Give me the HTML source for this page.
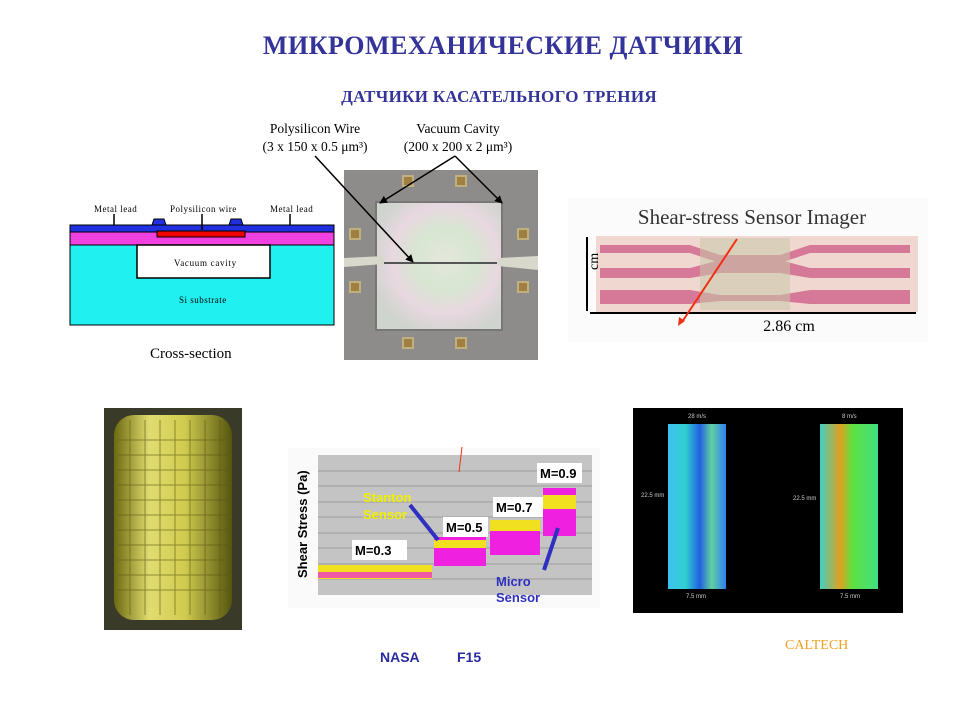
<!DOCTYPE html>
<html><head><meta charset="utf-8"><style>
body{margin:0;width:960px;height:720px;background:#fff;position:relative;overflow:hidden;font-family:"Liberation Serif",serif}
.a{position:absolute;white-space:nowrap}
</style></head><body>
<div class="a" style="left:0;width:1006px;top:31px;text-align:center;font-size:26px;font-weight:bold;color:#333399;letter-spacing:0.5px">МИКРОМЕХАНИЧЕСКИЕ ДАТЧИКИ</div>
<div class="a" style="left:0;width:998px;top:87px;text-align:center;font-size:17px;font-weight:bold;color:#333399;letter-spacing:0.3px">ДАТЧИКИ КАСАТЕЛЬНОГО ТРЕНИЯ</div>

<svg class="a" style="left:0;top:0" width="960" height="720">
<defs>
<radialGradient id="chip" cx="0.55" cy="0.45" r="0.6"><stop offset="0" stop-color="#e6e6dc"/><stop offset="0.4" stop-color="#d7e6d2"/><stop offset="0.7" stop-color="#e8d8e0"/><stop offset="1" stop-color="#d0d4cf"/></radialGradient>
<linearGradient id="cyl" x1="0" x2="1"><stop offset="0" stop-color="#6b6a10"/><stop offset="0.3" stop-color="#e0dc70"/><stop offset="0.6" stop-color="#d0cc50"/><stop offset="1" stop-color="#55550f"/></linearGradient>
<linearGradient id="c1" x1="0" x2="1"><stop offset="0" stop-color="#40c0f0"/><stop offset="0.3" stop-color="#30d0d0"/><stop offset="0.55" stop-color="#2060e0"/><stop offset="0.75" stop-color="#60d0a0"/><stop offset="1" stop-color="#3080f0"/></linearGradient>
<linearGradient id="c2" x1="0" x2="1"><stop offset="0" stop-color="#40d0c0"/><stop offset="0.35" stop-color="#e0a020"/><stop offset="0.55" stop-color="#60e040"/><stop offset="1" stop-color="#40e080"/></linearGradient>
<marker id="ah" markerWidth="8" markerHeight="8" refX="7" refY="4" orient="auto" markerUnits="userSpaceOnUse"><path d="M0 0 L8 4 L0 8z" fill="#000"/></marker>
</defs>
<!-- cross-section -->
<rect x="70" y="225" width="264" height="7" fill="#2030e0" stroke="#000"/>
<rect x="70" y="232" width="264" height="13" fill="#f040e0" stroke="#000"/>
<rect x="70" y="245" width="264" height="80" fill="#20f0f0" stroke="#000"/>
<rect x="137" y="245" width="133" height="33" fill="#fff" stroke="#000" stroke-width="1.5"/>
<path d="M152 225 l2 -6 h10 l2 6 z M229 225 l2 -6 h10 l2 6 z" fill="#2030e0" stroke="#000"/>
<rect x="157" y="231" width="88" height="6" fill="#f00000" stroke="#000"/>
<path d="M114 214 v11 M202 214 v16 M290 214 v11" stroke="#000" stroke-width="1.5"/>
<text x="94" y="212" font-size="9" letter-spacing="0.5">Metal lead</text>
<text x="170" y="212" font-size="9" letter-spacing="0.5">Polysilicon wire</text>
<text x="270" y="212" font-size="9" letter-spacing="0.5">Metal lead</text>
<text x="174" y="266" font-size="9" letter-spacing="0.7">Vacuum cavity</text>
<text x="179" y="303" font-size="9" letter-spacing="0.5">Si substrate</text>
<text x="150" y="358" font-size="15">Cross-section</text>
<!-- chip -->
<rect x="344" y="170" width="194" height="190" fill="#8d8c8a"/>
<g fill="#a08040" stroke="#c0b080" stroke-width="2">
<rect x="403" y="176" width="10" height="10"/><rect x="456" y="176" width="10" height="10"/>
<rect x="403" y="338" width="10" height="10"/><rect x="456" y="338" width="10" height="10"/>
<rect x="350" y="229" width="10" height="10"/><rect x="350" y="282" width="10" height="10"/>
<rect x="518" y="229" width="10" height="10"/><rect x="518" y="282" width="10" height="10"/>
</g>
<rect x="376" y="202" width="126" height="128" fill="url(#chip)" stroke="#777" stroke-width="2"/>
<path d="M344 258 l40 -2 v8 l-40 3z M538 256 l-40 2 v8 l40 4z" fill="#d8d8cc"/>
<line x1="384" y1="263" x2="497" y2="263" stroke="#555" stroke-width="2"/>
<g stroke="#000" stroke-width="1.5" marker-end="url(#ah)">
<line x1="315" y1="156" x2="413" y2="262"/>
<line x1="455" y1="156" x2="380" y2="203"/>
<line x1="455" y1="156" x2="502" y2="203"/>
</g>
<text x="315" y="133" font-size="13.5" text-anchor="middle">Polysilicon Wire</text>
<text x="315" y="151" font-size="13.5" text-anchor="middle">(3 x 150 x 0.5 μm³)</text>
<text x="458" y="133" font-size="13.5" text-anchor="middle">Vacuum Cavity</text>
<text x="458" y="151" font-size="13.5" text-anchor="middle">(200 x 200 x 2 μm³)</text>
<!-- imager -->
<rect x="568" y="198" width="360" height="144" fill="#fbfbfb"/>
<text x="752" y="224" font-size="21" text-anchor="middle" fill="#333">Shear-stress Sensor Imager</text>
<rect x="596" y="236" width="322" height="76" fill="#f0d8d0"/>
<path d="M600 245 h90 l30 10 h60 l30 -10 h100 v8 h-100 l-30 10 h-60 l-30 -10 h-90z M600 268 h90 l30 -8 h60 l30 8 h100 v10 h-100 l-30 -5 h-60 l-30 5 h-90z M600 290 h90 l30 5 h60 l30 -5 h100 v14 h-100 l-30 -3 h-60 l-30 3 h-90z" fill="#d06088" opacity="0.8"/>
<rect x="700" y="238" width="90" height="72" fill="#c8c8a8" opacity="0.55"/>
<path d="M587 237 v74 M590 313 h326" stroke="#000" stroke-width="2"/>
<text x="789" y="331" font-size="16" text-anchor="middle">2.86 cm</text>
<text x="598" y="270" font-size="14" transform="rotate(-90 598 270)">cm</text>
<path d="M737 239 L682 322" stroke="#f03010" stroke-width="2"/>
<path d="M678 326 l1 -9 l6 4z" fill="#f03010"/>
<!-- cylinder -->
<rect x="104" y="408" width="138" height="222" fill="#3a3a28"/>
<rect x="114" y="415" width="118" height="205" rx="20" fill="url(#cyl)"/>
<g stroke="#5a5a10" stroke-width="1" opacity="0.6">
<path d="M118 440 h110 M118 455 h110 M118 470 h110 M118 485 h110 M118 500 h110 M118 515 h110 M118 530 h110 M118 545 h110 M118 560 h110 M118 575 h110 M118 590 h110"/>
<path d="M130 420 v195 M145 420 v195 M160 420 v195 M175 420 v195 M190 420 v195 M205 420 v195 M220 420 v195"/>
</g>
<!-- chart -->
<rect x="288" y="448" width="312" height="160" fill="#fafafa"/>
<rect x="318" y="455" width="274" height="140" fill="#c4c4c4"/>
<g stroke="#909090" stroke-width="0.8"><path d="M318 471 h274 M318 486 h274 M318 502 h274 M318 517 h274 M318 533 h274 M318 548 h274 M318 564 h274 M318 579 h274"/></g>
<rect x="318" y="565" width="114" height="14" fill="#f0e020"/><rect x="318" y="572" width="114" height="6" fill="#f020e0" opacity="0.7"/>
<rect x="434" y="537" width="52" height="29" fill="#f020e0"/><rect x="434" y="540" width="52" height="8" fill="#f0e020"/>
<rect x="490" y="520" width="50" height="35" fill="#f020e0"/><rect x="490" y="520" width="50" height="11" fill="#f0e020"/>
<rect x="543" y="488" width="33" height="48" fill="#f020e0"/><rect x="543" y="495" width="33" height="14" fill="#f0e020"/>
<g fill="#fff">
<rect x="352" y="540" width="55" height="20"/><rect x="443" y="517" width="45" height="20"/><rect x="493" y="497" width="50" height="20"/><rect x="537" y="463" width="45" height="20"/>
</g>
<g font-family="Liberation Sans,sans-serif" font-weight="bold" font-size="13">
<text x="355" y="555">M=0.3</text><text x="446" y="532">M=0.5</text><text x="496" y="512">M=0.7</text><text x="540" y="478">M=0.9</text>
<text x="363" y="502" fill="#f0f000">Stanton</text><text x="363" y="519" fill="#f0f000">Sensor</text>
<text x="496" y="586" fill="#3030c0">Micro</text><text x="496" y="602" fill="#3030c0">Sensor</text>
<text x="307" y="578" font-size="13" transform="rotate(-90 307 578)">Shear Stress (Pa)</text>
</g>
<path d="M410 505 L438 540 M544 570 L558 528" stroke="#3030c0" stroke-width="4"/>
<path d="M462 447 L459 472" stroke="#f03010" stroke-width="1"/>
<!-- CFD -->
<rect x="633" y="408" width="270" height="205" fill="#000"/>
<rect x="668" y="424" width="58" height="165" fill="url(#c1)"/>
<rect x="820" y="424" width="58" height="165" fill="url(#c2)"/>
<g fill="#ccc" font-family="Liberation Sans,sans-serif" font-size="6">
<text x="688" y="418">28 m/s</text><text x="842" y="418">8 m/s</text>
<text x="641" y="497">22.5 mm</text><text x="793" y="500">22.5 mm</text>
<text x="686" y="598">7.5 mm</text><text x="840" y="598">7.5 mm</text>
</g>
</svg>
<div class="a" style="left:380px;top:649px;font:bold 14px 'Liberation Sans',sans-serif;color:#2a2aa0">NASA</div>
<div class="a" style="left:457px;top:649px;font:bold 14px 'Liberation Sans',sans-serif;color:#2a2aa0">F15</div>
<div class="a" style="left:785px;top:638px;font-size:14px;color:#f0a020">CALTECH</div>
</body></html>
